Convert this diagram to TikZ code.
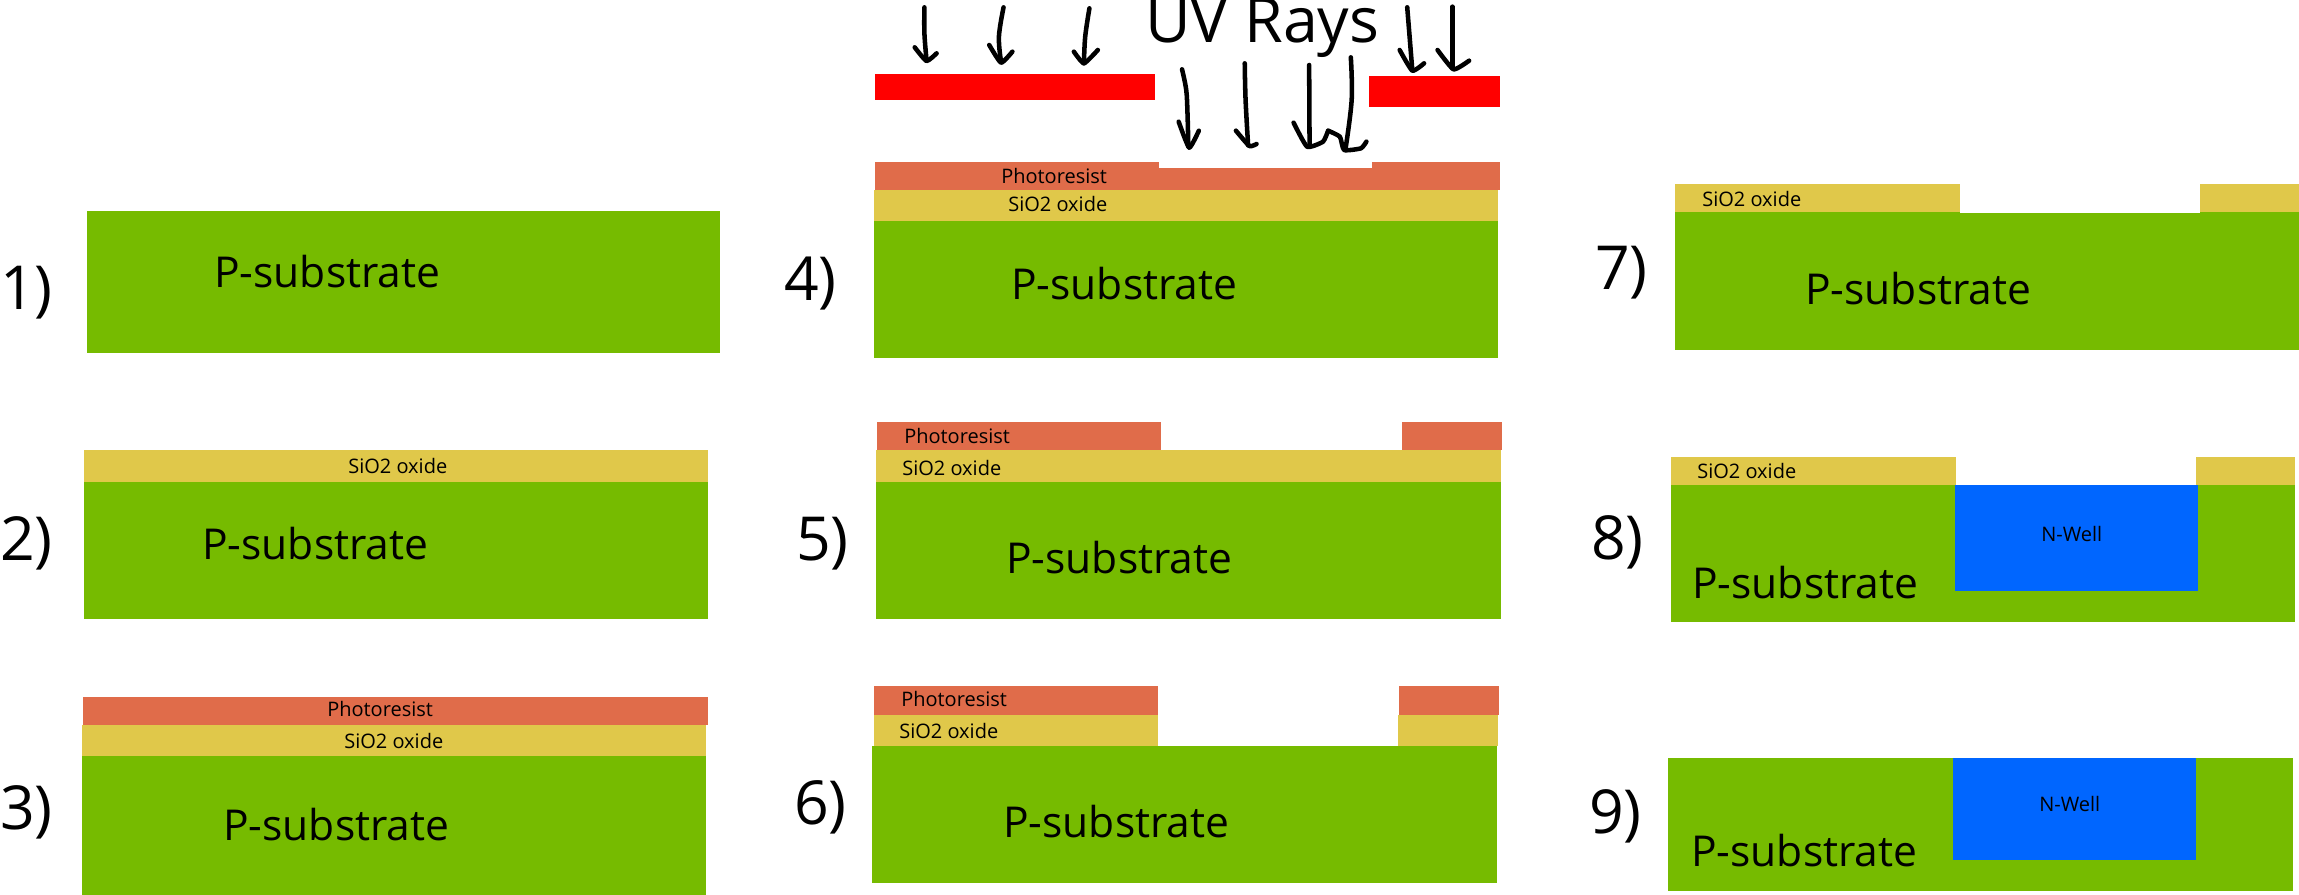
\documentclass[tikz,border=0pt]{standalone}
\usepackage{fontspec}
\setmainfont{Open Sans}
\definecolor{subst}{HTML}{76BB00}
\definecolor{oxide}{HTML}{E0C84A}
\definecolor{resist}{HTML}{E06C4A}
\definecolor{well}{HTML}{0066FF}
\definecolor{mask}{HTML}{FF0000}
\tikzset{
  lab/.style={inner sep=0pt,anchor=base west,text=black},
  big/.style={lab,font=\fontsize{31.9pt}{36pt}\selectfont},
  small/.style={lab,font=\fontsize{15pt}{18pt}\selectfont},
  num/.style={lab,font=\fontsize{45.5pt}{52pt}\selectfont},
  ray/.style={draw=black,line width=3.4pt,line cap=round,line join=round},
}
\newcommand{\ray}[2]{%
  \draw[ray] plot[smooth,tension=0.6] coordinates {#1};
  \draw[ray] plot[smooth,tension=0.3] coordinates {#2};}
\begin{document}
\begin{tikzpicture}[x=0.75pt,y=-0.75pt]
\useasboundingbox (0,0) rectangle (2299,895);
% panel 1
\fill[subst] (87,211) rectangle (720,353);
\node[big] (s1) at (214,287) {P-substrate};
\node[num] (n1) at (0,309) {1)};
% panel 2
\fill[oxide] (84,450) rectangle (708,482);
\fill[subst] (84,482) rectangle (708,619);
\node[small] (o2) at (348,473) {SiO2 oxide};
\node[big] (s2) at (202,559) {P-substrate};
\node[num] (n2) at (0,560) {2)};
% panel 3
\fill[resist] (83,697) rectangle (708,725);
\fill[oxide] (82,725) rectangle (706,756);
\fill[subst] (82,756) rectangle (706,895);
\node[small] (r3) at (327,716) {Photoresist};
\node[small] (o3) at (344,748) {SiO2 oxide};
\node[big] (s3) at (223,840) {P-substrate};
\node[num] (n3) at (0,829) {3)};
% panel 4
\fill[mask] (875,74) rectangle (1155,100);
\fill[mask] (1369,76) rectangle (1500,107);
\fill[resist] (875,162) rectangle (1500,190);
\fill[white] (1159,162) rectangle (1372,168);
\fill[oxide] (874,190) rectangle (1498,221);
\fill[subst] (874,221) rectangle (1498,358);
\node[small] (r4) at (1001,184) {Photoresist};
\node[small] (o4) at (1008,211) {SiO2 oxide};
\node[big] (s4) at (1011,299) {P-substrate};
\node[num] (n4) at (784,300) {4)};
\node[lab,font=\fontsize{47pt}{54pt}\selectfont] (uv) at (1145,43) {UV Rays};
\begin{scope}[shift={(860,0)},x=0.3157pt,y=-0.25pt]
\ray{(153,22)(153,100)(158,180)}{(130,142)(158,183)(182,160)}
\ray{(341,22)(330,110)(335,185)}{(307,135)(335,188)(362,155)}
\ray{(545,25)(535,110)(532,190)}{(508,155)(532,190)(565,150)}
\ray{(765,208)(775,270)(778,340)(780,440)}{(757,365)(782,443)(805,392)}
\ray{(914,190)(916,300)(922,436)}{(893,392)(925,438)(942,432)}
\ray{(1067,195)(1068,436)}{(1030,368)(1062,440)(1100,425)(1112,392)}
\ray{(1166,172)(1168,300)(1153,450)}{(1112,392)(1140,410)(1150,450)(1190,445)(1203,425)}
\ray{(1300,22)(1305,100)(1312,210)}{(1282,150)(1312,212)(1340,190)}
\ray{(1407,20)(1407,205)}{(1372,150)(1410,208)(1447,182)}
\end{scope}
% panel 5
\fill[resist] (877,422) rectangle (1161,450);
\fill[resist] (1402,422) rectangle (1502,450);
\fill[oxide] (876,450) rectangle (1501,482);
\fill[subst] (876,482) rectangle (1501,619);
\node[small] (r5) at (904,443) {Photoresist};
\node[small] (o5) at (902,475) {SiO2 oxide};
\node[big] (s5) at (1006,573) {P-substrate};
\node[num] (n5) at (796,560) {5)};
% panel 6
\fill[resist] (874,686) rectangle (1158,715);
\fill[resist] (1399,686) rectangle (1499,715);
\fill[oxide] (874,715) rectangle (1158,746);
\fill[oxide] (1398,715) rectangle (1498,746);
\fill[subst] (872,746) rectangle (1497,883);
\node[small] (r6) at (901,706) {Photoresist};
\node[small] (o6) at (899,738) {SiO2 oxide};
\node[big] (s6) at (1003,837) {P-substrate};
\node[num] (n6) at (794,824) {6)};
% panel 7
\fill[oxide] (1675,184) rectangle (1960,212);
\fill[oxide] (2200,184) rectangle (2299,212);
\fill[subst] (1675,212) rectangle (2299,350);
\fill[white] (1960,212) rectangle (2200,213);
\node[small] (o7) at (1702,206) {SiO2 oxide};
\node[big] (s7) at (1805,304) {P-substrate};
\node[num] (n7) at (1595,289) {7)};
% panel 8
\fill[oxide] (1671,457) rectangle (1956,485);
\fill[oxide] (2196,457) rectangle (2295,485);
\fill[subst] (1671,485) rectangle (2295,622);
\fill[well] (1955,485) rectangle (2198,591);
\node[small] (o8) at (1697,478) {SiO2 oxide};
\node[small] (w8) at (2041,541) {N-Well};
\node[big] (s8) at (1692,598) {P-substrate};
\node[num] (n8) at (1591,559) {8)};
% panel 9
\fill[subst] (1668,758) rectangle (2293,891);
\fill[well] (1953,758) rectangle (2196,860);
\node[small] (w9) at (2039,811) {N-Well};
\node[big] (s9) at (1691,866) {P-substrate};
\node[num] (n9) at (1589,833) {9)};
\end{tikzpicture}
\end{document}
